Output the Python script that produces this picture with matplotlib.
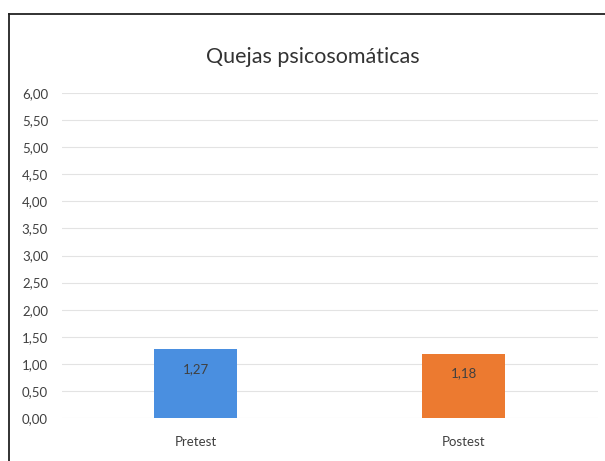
import matplotlib.pyplot as plt
from matplotlib.lines import Line2D
import numpy as np

categories = ['Pretest', 'Postest']
values = [1.27, 1.18]
bar_colors = ['#4A8FE0', '#EC7A30']
yticks = np.arange(0, 6.01, 0.5)

plt.rcParams['font.family'] = ['Lato', 'DejaVu Sans']

fig = plt.figure(figsize=(6.05, 4.61), dpi=100)
ax = fig.add_axes([0.1025, 0.0933, 0.8855, 0.7047])

x = np.arange(len(categories))
bars = ax.bar(x, values, width=0.31, color=bar_colors, zorder=3)

for b, v in zip(bars, values):
    ax.annotate(f'{v:.2f}'.replace('.', ','), (b.get_x() + b.get_width() / 2, v),
                xytext=(0, -14), textcoords='offset points', ha='center', va='center',
                fontsize=9.5, color='#404040')

ax.set_xlim(-0.5, 1.5)
ax.set_ylim(0, 6)
ax.set_yticks(yticks)
ax.set_yticklabels([f'{t:.2f}'.replace('.', ',') for t in yticks])
ax.set_xticks(x)
ax.set_xticklabels(categories)
ax.tick_params(axis='both', length=0, labelsize=9.5, labelcolor='#404040')
ax.tick_params(axis='y', pad=10)
ax.tick_params(axis='x', pad=13)
ax.grid(axis='y', color='#E3E3E3', linewidth=0.8, zorder=0)
for s in ax.spines.values():
    s.set_visible(False)

fig.suptitle('Quejas psicosomáticas', x=0.517, y=0.897, fontsize=15.5, color='#333333')

# chart frame (top and left edge)
fig.add_artist(Line2D([0.015, 1.0], [0.970, 0.970], color='#222222', linewidth=1.3))
fig.add_artist(Line2D([0.015, 0.015], [0.0, 0.970], color='#222222', linewidth=1.3))

fig.savefig('out.png', dpi=100)
